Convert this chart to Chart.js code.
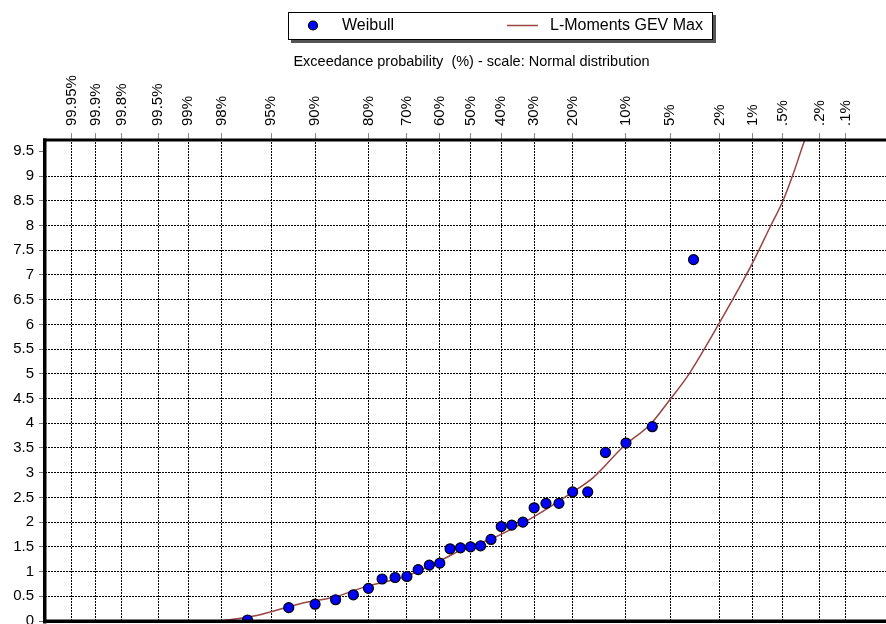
<!DOCTYPE html>
<html>
<head>
<meta charset="utf-8">
<script src="https://cdn.jsdelivr.net/npm/chart.js@4.4.1/dist/chart.umd.min.js"></script>
<style>
  html, body { margin: 0; padding: 0; background: #fff; overflow: hidden; }
  #wrap { width: 898px; height: 624px; }
</style>
</head>
<body>
<div id="wrap"><canvas id="chart" width="898" height="624"></canvas></div>
<script>
// tick labels of the top axis (exceedance probability, normal scale)
const exceedLabels = ['99.95%', '99.9%', '99.8%', '99.5%', '99%', '98%', '95%', '90%', '80%', '70%', '60%',
  '50%', '40%', '30%', '20%', '10%', '5%', '2%', '1%', '.5%', '.2%', '.1%'];
const exceedTicks = [99.95, 99.9, 99.8, 99.5, 99, 98, 95, 90, 80, 70, 60, 50, 40, 30, 20, 10, 5, 2, 1, 0.5, 0.2, 0.1];

// Weibull plotting positions (exceedance %) and observed values
const weibullExceed = [96.7, 93.3, 90.0, 86.7, 83.3, 80.0, 76.7, 73.3, 70.0, 66.7, 63.3, 60.0, 56.7, 53.3, 50.0,
  46.7, 43.3, 40.0, 36.7, 33.3, 30.0, 26.7, 23.3, 20.0, 16.7, 13.3, 10.0, 6.7, 3.3];
const weibullValues = [0.02, 0.27, 0.34, 0.43, 0.53, 0.66, 0.85, 0.88, 0.90, 1.04, 1.13, 1.17, 1.46, 1.48, 1.50,
  1.52, 1.65, 1.91, 1.94, 2.00, 2.29, 2.38, 2.38, 2.61, 2.61, 3.41, 3.60, 3.93, 7.31];

// L-Moments GEV Max fitted curve
const gevExceed = [98.0, 96.1, 92.0, 87.1, 80.4, 70.0, 59.9, 51.2, 43.6, 30.5, 20.1, 15.6, 10.3, 6.9, 5.1, 3.6,
  2.0, 1.0, 0.68, 0.50, 0.38, 0.30, 0.29];
const gevValues = [0.0, 0.11, 0.35, 0.48, 0.70, 0.91, 1.22, 1.49, 1.65, 2.09, 2.60, 2.90, 3.54, 3.98, 4.45, 4.99,
  6.04, 7.25, 7.96, 8.50, 9.11, 9.68, 9.75];

// inverse of the standard normal CDF (Acklam)
function probit(p) {
  const a = [-3.969683028665376e+01, 2.209460984245205e+02, -2.759285104469687e+02, 1.383577518672690e+02, -3.066479806614716e+01, 2.506628277459239e+00];
  const b = [-5.447609879822406e+01, 1.615858368580409e+02, -1.556989798598866e+02, 6.680131188771972e+01, -1.328068155288572e+01];
  const c = [-7.784894002430293e-03, -3.223964580411365e-01, -2.400758277161838e+00, -2.549732539343734e+00, 4.374664141464968e+00, 2.938163982698783e+00];
  const d = [7.784695709041462e-03, 3.224671290700398e-01, 2.445134137142996e+00, 3.754408661907416e+00];
  const plow = 0.02425;
  let q, r;
  if (p < plow) {
    q = Math.sqrt(-2 * Math.log(p));
    return (((((c[0] * q + c[1]) * q + c[2]) * q + c[3]) * q + c[4]) * q + c[5]) / ((((d[0] * q + d[1]) * q + d[2]) * q + d[3]) * q + 1);
  }
  if (p > 1 - plow) {
    q = Math.sqrt(-2 * Math.log(1 - p));
    return -(((((c[0] * q + c[1]) * q + c[2]) * q + c[3]) * q + c[4]) * q + c[5]) / ((((d[0] * q + d[1]) * q + d[2]) * q + d[3]) * q + 1);
  }
  q = p - 0.5;
  r = q * q;
  return (((((a[0] * r + a[1]) * r + a[2]) * r + a[3]) * r + a[4]) * r + a[5]) * q / (((((b[0] * r + b[1]) * r + b[2]) * r + b[3]) * r + b[4]) * r + 1);
}
// exceedance % -> position on the normal probability axis
const toZ = pct => probit(1 - pct / 100);

const FONT = '"Liberation Sans", Arial, sans-serif';
const LINE_COLOR = '#9a4444';

// legend box + plot frame drawn on top
const frameAndLegend = {
  id: 'frameAndLegend',
  afterDraw(chart) {
    const ctx = chart.ctx;
    const area = chart.chartArea;
    const [pts, curve] = chart.data.datasets;
    ctx.save();
    // frame
    ctx.fillStyle = '#000';
    ctx.fillRect(area.left - 2, area.top - 0.5, area.right - area.left + 2, 3);
    ctx.fillRect(area.left - 2, area.top - 0.5, 3.5, area.bottom - area.top + 3);
    ctx.fillRect(area.left - 2, area.bottom - 1.5, area.right - area.left + 2, 3.5);

    // legend
    ctx.fillStyle = '#555';
    ctx.fillRect(291, 40, 425, 3);
    ctx.fillRect(713, 15, 3, 28);
    ctx.fillStyle = '#fff';
    ctx.fillRect(288, 12, 425, 28);
    ctx.strokeStyle = '#000';
    ctx.lineWidth = 1;
    ctx.strokeRect(288.5, 12.5, 424, 27);

    ctx.beginPath();
    ctx.arc(313, 25.5, 4.5, 0, Math.PI * 2);
    ctx.fillStyle = pts.pointBackgroundColor;
    ctx.fill();
    ctx.lineWidth = 1.2;
    ctx.strokeStyle = pts.pointBorderColor;
    ctx.stroke();

    ctx.beginPath();
    ctx.moveTo(507, 25.5);
    ctx.lineTo(538, 25.5);
    ctx.strokeStyle = curve.borderColor;
    ctx.lineWidth = 1.5;
    ctx.stroke();

    ctx.fillStyle = '#000';
    ctx.font = '16px ' + FONT;
    ctx.textBaseline = 'middle';
    ctx.fillText(pts.label, 342, 26);
    ctx.fillText(curve.label, 550, 26);
    ctx.restore();
  }
};

const ctx = document.getElementById('chart').getContext('2d');
new Chart(ctx, {
  type: 'scatter',
  data: {
    datasets: [
      {
        label: 'Weibull',
        data: weibullExceed.map((p, i) => ({ x: toZ(p), y: weibullValues[i] })),
        pointRadius: 5,
        pointBackgroundColor: '#0000ff',
        pointBorderColor: '#000',
        pointBorderWidth: 1.2,
        yAxisID: 'y'
      },
      {
        label: 'L-Moments GEV Max',
        data: gevExceed.map((p, i) => ({ x: toZ(p), y: gevValues[i] })),
        showLine: true,
        pointRadius: 0,
        borderColor: LINE_COLOR,
        borderWidth: 1.5,
        cubicInterpolationMode: 'monotone',
        yAxisID: 'y'
      }
    ]
  },
  options: {
    responsive: false,
    animation: false,
    devicePixelRatio: 1,
    layout: { autoPadding: false, padding: { left: 0, right: 0, top: 0, bottom: 3 } },
    plugins: {
      legend: { display: false },
      tooltip: { enabled: false }
    },
    scales: {
      x: {
        type: 'linear',
        position: 'top',
        min: -3.508,
        max: 3.524,
        afterBuildTicks: scale => {
          scale.ticks = exceedTicks.map(p => ({ value: toZ(p) }));
        },
        afterFit: scale => {
          scale.height = 139;
          scale.paddingLeft = 0;
          scale.paddingRight = 0;
        },
        ticks: {
          autoSkip: false,
          minRotation: 90,
          maxRotation: 90,
          padding: 7,
          labelOffset: 18,
          color: '#000',
          font: { family: FONT, size: 15 },
          callback: (value, index) => exceedLabels[index]
        },
        grid: { color: '#000', lineWidth: 1, tickLength: 6, tickColor: '#888' },
        border: { display: false, dash: [2, 1] },
        title: {
          display: true,
          text: 'Exceedance probability  (%) - scale: Normal distribution',
          color: '#000',
          font: { family: FONT, size: 14.5 },
          padding: { top: 53, bottom: 0 }
        }
      },
      y: {
        type: 'linear',
        position: 'left',
        min: 0,
        max: 9.75,
        afterFit: scale => {
          scale.width = 45;
          scale.paddingTop = 0;
          scale.paddingBottom = 0;
        },
        ticks: {
          stepSize: 0.25,
          padding: 5,
          color: '#000',
          font: { family: FONT, size: 15 },
          callback: v => (Math.abs(v * 2 - Math.round(v * 2)) < 1e-6 ? String(v) : '')
        },
        grid: {
          tickLength: 6,
          tickColor: '#777',
          color: c => (Math.abs(c.tick.value * 2 - Math.round(c.tick.value * 2)) < 1e-6 ? 'rgba(0,0,0,0)' : '#a0a0a0')
        },
        border: { display: false }
      },
      yDots: {
        type: 'linear',
        position: 'left',
        min: 0,
        max: 9.75,
        afterFit: scale => {
          scale.width = 0;
          scale.paddingTop = 0;
          scale.paddingBottom = 0;
        },
        ticks: { display: false, stepSize: 0.5 },
        grid: { color: '#000', drawTicks: false },
        border: { display: false, dash: [2, 1] }
      }
    }
  },
  plugins: [frameAndLegend]
});
</script>
</body>
</html>
